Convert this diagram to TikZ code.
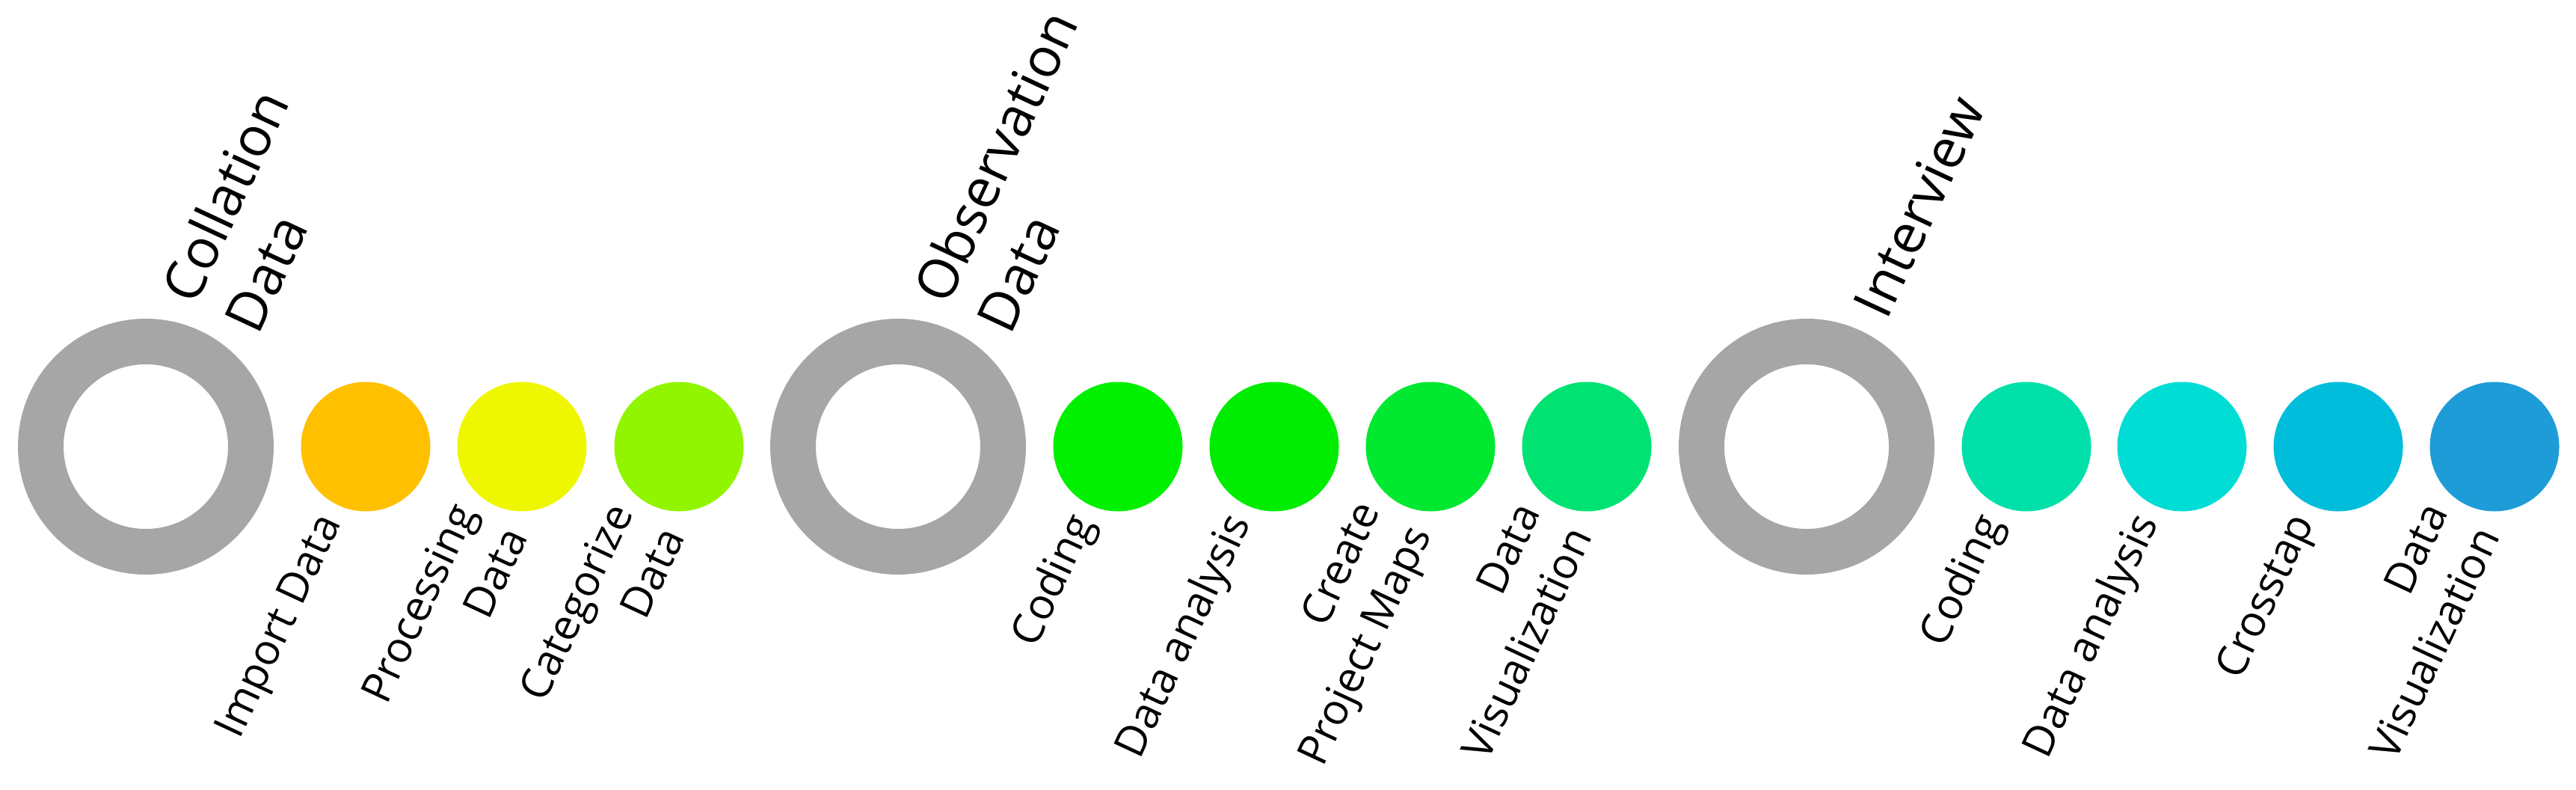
\documentclass[tikz,border=0pt]{standalone}
\usepackage{fontspec}
\setmainfont{Open Sans}
\usetikzlibrary{calc}
\definecolor{ringgray}{HTML}{A6A6A6}
\definecolor{cA}{HTML}{FFC000}
\definecolor{cB}{HTML}{EFF700}
\definecolor{cC}{HTML}{92F500}
\definecolor{cD}{HTML}{00F000}
\definecolor{cE}{HTML}{00EC00}
\definecolor{cF}{HTML}{00E830}
\definecolor{cG}{HTML}{00E372}
\definecolor{cH}{HTML}{00E0A8}
\definecolor{cI}{HTML}{00DDD4}
\definecolor{cJ}{HTML}{00BDDB}
\definecolor{cK}{HTML}{1E9CD8}
\begin{document}
\begin{tikzpicture}[
  ringnode/.style={circle, draw=ringgray, line width=0.61cm, minimum size=2.81cm, inner sep=0pt},
  stepdot/.style={circle, minimum size=1.73cm, inner sep=0pt, fill=#1},
  lbl/.style={rotate=65, anchor=east, align=right, inner sep=0pt, font=\fontsize{16.2}{21.6}\selectfont},
  ttl/.style={rotate=65, anchor=west, align=left, inner sep=0pt, font=\fontsize{20.8}{26.5}\selectfont}
]
\useasboundingbox (0,0) rectangle (34.45,10.55);
% rings
\node[ringnode] (r1) at (1.95,4.58) {};
\node[ringnode] (r2) at (12.01,4.58) {};
\node[ringnode] (r3) at (24.16,4.58) {};
% circles
\node[stepdot=cA] (c1) at (4.89,4.58) {};
\node[stepdot=cB] (c2) at (6.98,4.58) {};
\node[stepdot=cC] (c3) at (9.08,4.58) {};
\node[stepdot=cD] (c4) at (14.95,4.58) {};
\node[stepdot=cE] (c5) at (17.04,4.58) {};
\node[stepdot=cF] (c6) at (19.13,4.58) {};
\node[stepdot=cG] (c7) at (21.22,4.58) {};
\node[stepdot=cH] (c8) at (27.10,4.58) {};
\node[stepdot=cI] (c9) at (29.18,4.58) {};
\node[stepdot=cJ] (c10) at (31.27,4.58) {};
\node[stepdot=cK] (c11) at (33.36,4.58) {};
% titles
\node[ttl] (t1) at ($(r1)+(65:1.97)$) {Collation\\Data};
\node[ttl] (t2) at ($(r2)+(65:1.97)$) {Observation\\Data};
\node[ttl] (t3) at ($(r3)+(65:1.97)$) {Interview};
% labels
\node[lbl] (l1) at ($(c1)+(245:1.05)$) {Import Data};
\node[lbl] (l2) at ($(c2)+(245:1.05)$) {Processing\\Data};
\node[lbl] (l3) at ($(c3)+(245:1.05)$) {Categorize\\Data};
\node[lbl] (l4) at ($(c4)+(245:1.05)$) {Coding};
\node[lbl] (l5) at ($(c5)+(245:1.05)$) {Data analysis};
\node[lbl] (l6) at ($(c6)+(245:1.05)$) {Create\\Project Maps};
\node[lbl] (l7) at ($(c7)+(245:1.05)$) {Data\\Visualization};
\node[lbl] (l8) at ($(c8)+(245:1.05)$) {Coding};
\node[lbl] (l9) at ($(c9)+(245:1.05)$) {Data analysis};
\node[lbl] (l10) at ($(c10)+(245:1.05)$) {Crosstap};
\node[lbl] (l11) at ($(c11)+(245:1.05)$) {Data\\Visualization};
\end{tikzpicture}
\end{document}
